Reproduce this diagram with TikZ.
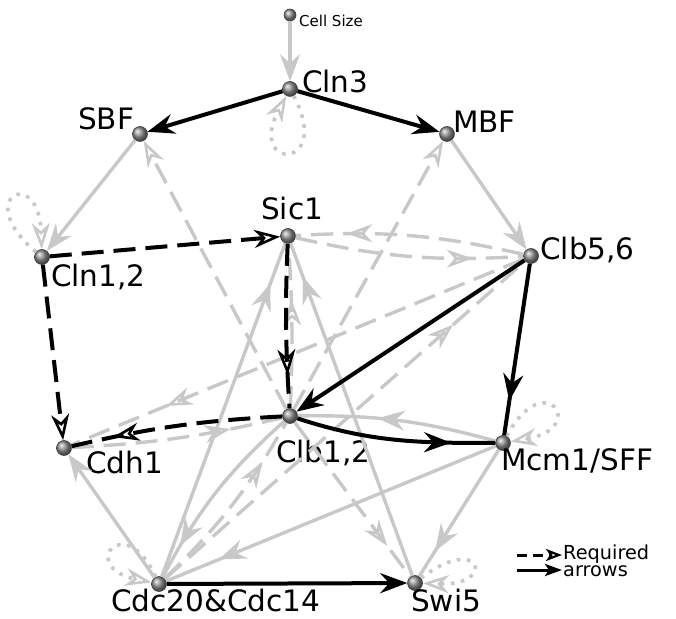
\documentclass[tikz,border=0pt]{standalone}
\usepackage{fontspec}
\setmainfont{DejaVu Sans}
\usetikzlibrary{arrows.meta,decorations.markings}

\definecolor{lgray}{RGB}{200,200,200}

\begin{document}
\begin{tikzpicture}[x=1pt, y=1pt,
    ball/.style={circle, inner sep=0pt, minimum size=15pt, shading=ball, ball color=gray!85, draw=black!75, line width=0.6pt},
    lbl/.style={anchor=base west, inner sep=0pt, font=\fontsize{29.5}{31}\selectfont},
    blk/.style={draw=black, line width=4pt},
    gry/.style={draw=lgray, line width=3.4pt},
    dsh/.style={dash pattern=on 22pt off 10pt},
    selfloop/.style={draw=lgray, line width=3.6pt, dash pattern=on 3.6pt off 6.5pt},
    hd/.style={-{Stealth[length=27pt, width=20pt, inset=9pt]}},
    ohd/.style={-{Stealth[open, length=26pt, width=18pt, inset=8pt, line width'=2.6pt]}},
    mk/.style={postaction={decorate}, decoration={markings, mark=at position #1 with {\arrow{Stealth[length=27pt, width=20pt, inset=9pt]}}}},
    omk/.style={postaction={decorate}, decoration={markings, mark=at position #1 with {\arrow{Stealth[open, length=26pt, width=18pt, inset=8pt, line width'=2.6pt]}}}}
]
    \useasboundingbox (0,0) rectangle (676,618);

    % Nodes
    \foreach \name/\x/\y in {cln3/290/529, sbf/140/484, mbf/447/484, cln12/42/361, sic1/288/382, clb56/531/362, cdh1/64/170, clb12/290/202, mcm1/503/175, cdc20/159/34, swi5/415/35}
        \node[ball] (\name) at (\x,\y) {};
    \node[ball, minimum size=12pt] (cellsize) at (290,603) {};

    % Labels
    \foreach \name/\x/\y/\txt in {cln3/302/525/Cln3, sbf/78/488/SBF, mbf/453/485/MBF, clb56/540/358/{Clb5,6}, sic1/261/398/Sic1, cln12/51/331/{Cln1,2}, cdh1/86/145/Cdh1, clb12/276/156/{Clb1,2}, mcm1/501/147/{Mcm1/SFF}, cdc20/111/7/{Cdc20\&Cdc14}, swi5/411/7/Swi5}
        \node[lbl] (\name-l) at (\x,\y) {\txt};
    \node[lbl, font=\fontsize{15}{16}\selectfont] (cellsize-l) at (299,591) {Cell Size};

    % Gray arrows
    \foreach \a/\b in {cellsize/cln3, sbf/cln12, mbf/clb56, cdc20/cdh1}
        \draw[gry, hd] (\a) -- (\b);
    \foreach \a/\b/\bd/\p in {cdc20/sic1/0/0.88, swi5/sic1/0/0.9, mcm1/clb12/8/0.6, mcm1/cdc20/0/0.84, mcm1/swi5/0/0.8, clb12/cdc20/10/0.82}
        \draw[gry, mk=\p] (\a) to[bend right=\bd] (\b);
    \foreach \a/\b in {clb12/sbf, clb12/mbf}
        \draw[gry, dsh, ohd] (\a) -- (\b);
    \foreach \a/\b/\bd/\p in {cdc20/clb12/8/0.77, cdc20/clb56/0/0.8, clb56/sic1/8/0.78, sic1/clb56/8/0.78, clb56/cdh1/0/0.79, cdh1/clb12/5/0.75, clb12/swi5/0/0.8, clb12/sic1/3/0.66}
        \draw[gry, dsh, omk=\p] (\a) to[bend right=\bd] (\b);

    % Self loops
    \foreach \a/\o/\i/\d in {cln3/-62/-118/85, cln12/140/92/85, mcm1/62/10/80, cdc20/115/168/75, swi5/38/-2/75}
        \draw[selfloop, ohd] (\a) to[out=\o, in=\i, min distance=\d] (\a);

    % Required arrows
    \foreach \a/\b in {cln3/sbf, cln3/mbf, clb56/clb12, cdc20/swi5}
        \draw[blk, hd] (\a) -- (\b);
    \draw[blk, mk=0.8] (clb56) -- (mcm1);
    \draw[blk, mk=0.78] (clb12) to[out=-18, in=180] (mcm1);
    \foreach \a/\b in {cln12/sic1, cln12/cdh1}
        \draw[blk, dsh, ohd] (\a) -- (\b);
    \draw[blk, dsh, omk=0.8] (sic1) to[bend right=3] (clb12);
    \draw[blk, dsh, omk=0.8] (clb12) to[bend right=5] (cdh1);

    % Legend
    \coordinate (lg1) at (517,63);
    \coordinate (lg2) at (562,63);
    \coordinate (lg3) at (517,48);
    \coordinate (lg4) at (562,48);
    \draw[blk, line width=3pt, dash pattern=on 10pt off 6pt, -{Stealth[open, length=16pt, width=12pt, inset=4pt, line width'=2.2pt]}] (lg1) -- (lg2);
    \draw[blk, line width=3pt, -{Stealth[length=17pt, width=12pt, inset=4pt]}] (lg3) -- (lg4);
    \node[lbl, font=\fontsize{19.3}{19}\selectfont] (req) at (563,59) {Required};
    \node[lbl, font=\fontsize{19.3}{19}\selectfont] (arw) at (563,42) {arrows};
\end{tikzpicture}
\end{document}
